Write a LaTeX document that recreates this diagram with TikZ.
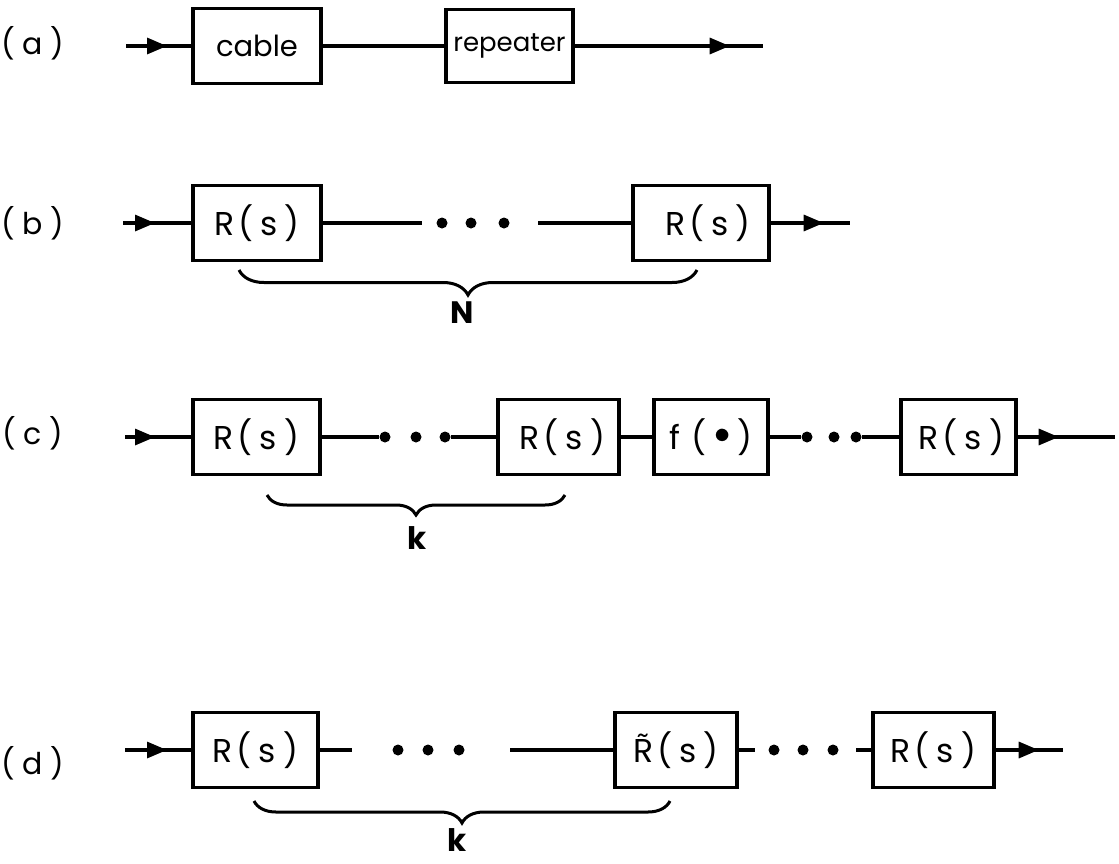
\documentclass[tikz,border=0pt]{standalone}
\usepackage{fontspec}
\setmainfont{Poppins}
\usetikzlibrary{arrows.meta,decorations.markings,decorations.pathreplacing}
\newcommand\RsTxt{R\hspace{0.12em}(\hspace{0.22em}s\hspace{0.22em})}
\newcommand\RtTxt{\accent"02DC R\hspace{0.12em}(\hspace{0.22em}s\hspace{0.22em})}
\newcommand\FdTxt{f\hspace{0.35em}(\hspace{0.22em}\raisebox{0.18em}{\scalebox{1.3}{$\bullet$}}\hspace{0.22em})}
\begin{document}
\begin{tikzpicture}[x=1pt,y=-1pt,
  blk/.style={draw, line width=3.4pt, minimum height=75pt, inner sep=0pt,
    font=\fontsize{33}{33}\selectfont},
  wire/.style={line width=3.2pt},
  arrat/.style={postaction={decorate}, decoration={markings,
    mark=at position #1 with {\arrow{Triangle[length=20pt,width=16pt]}}}},
  dotn/.style={circle, fill, inner sep=0pt, minimum size=11pt},
  lab/.style={font=\fontsize{30}{30}\selectfont},
  brc/.style={decorate, decoration={brace, mirror, amplitude=#1}, line width=3pt},
  brlab/.style={font=\fontsize{31}{31}\selectfont\bfseries, inner sep=1pt},
]
\useasboundingbox (0,0) rectangle (1119,863);

% ---------- (a) ----------
\node[lab] (la) at (33,43) {(\hspace{0.25em}a\hspace{0.25em})};
\node[blk, minimum width=128pt, font=\fontsize{29}{29}\selectfont] (cable) at (257,46) {cable};
\node[blk, minimum width=127pt, minimum height=73pt, font=\fontsize{26}{26}\selectfont] (rep) at (509.5,46) {repeater};
\coordinate (ain) at (126,46);
\coordinate (aout) at (763,46);
\draw[wire, arrat=41pt] (ain) -- (cable.west);
\draw[wire] (cable.east) -- (rep.west);
\draw[wire, arrat=155pt] (rep.east) -- (aout);

% ---------- (b) ----------
\node[lab] (lb) at (33,223) {(\hspace{0.25em}b\hspace{0.25em})};
\node[blk, minimum width=128pt] (b1) at (257,223) {\RsTxt};
\node[blk, minimum width=136pt] (b2) at (701,223) {\hspace{14pt}\RsTxt};
\coordinate (bin) at (123,223);
\coordinate (bl1) at (422,223);
\coordinate (bl2) at (538,223);
\coordinate (bout) at (850,223);
\node[dotn] (bd1) at (442,223) {};
\node[dotn] (bd2) at (471,223) {};
\node[dotn] (bd3) at (504,223) {};
\draw[wire, arrat=32pt] (bin) -- (b1.west);
\draw[wire] (b1.east) -- (bl1);
\draw[wire] (bl2) -- (b2.west);
\draw[wire, arrat=53pt] (b2.east) -- (bout);
\coordinate (bbl) at (239,270);
\coordinate (bbr) at (697,270);
\draw[brc=25pt] (bbl) -- (bbr);
\node[brlab] (N) at (462,313) {N};

% ---------- (c) ----------
\node[lab] (lc) at (33,433) {(\hspace{0.25em}c\hspace{0.25em})};
\node[blk, minimum width=127pt] (c1) at (256.5,437) {\RsTxt};
\node[blk, minimum width=121pt] (c2) at (558.5,437) {\hspace{8pt}\RsTxt};
\node[blk, minimum width=114pt] (cf) at (711,437) {\FdTxt};
\node[blk, minimum width=115pt] (c4) at (958.5,437) {\hspace{6pt}\RsTxt};
\coordinate (cin) at (125,437);
\coordinate (cout) at (1115,437);
\node[dotn] (cd1) at (385,437) {};
\node[dotn] (cd2) at (416,437) {};
\node[dotn] (cd3) at (445,437) {};
\node[dotn] (cd4) at (807,437) {};
\node[dotn] (cd5) at (834,437) {};
\node[dotn] (cd6) at (856,437) {};
\draw[wire, arrat=30pt] (cin) -- (c1.west);
\draw[wire] (c1.east) -- (cd1);
\draw[wire] (cd3) -- (c2.west);
\draw[wire] (c2.east) -- (cf.west);
\draw[wire] (cf.east) -- (cd4);
\draw[wire] (cd6) -- (c4.west);
\draw[wire, arrat=41pt] (c4.east) -- (cout);
\coordinate (cbl) at (267,495);
\coordinate (cbr) at (565,495);
\draw[brc=20pt] (cbl) -- (cbr);
\node[brlab] (ck) at (417,538) {k};

% ---------- (d) ----------
\node[lab] (ld) at (33,763) {(\hspace{0.25em}d\hspace{0.25em})};
\node[blk, minimum width=125pt] (d1) at (255.5,750) {\RsTxt};
\node[blk, minimum width=122pt] (d2) at (676,750) {\RtTxt};
\node[blk, minimum width=121pt] (d3) at (933.5,750) {\RsTxt};
\coordinate (din) at (125,750);
\coordinate (dl1) at (352,750);
\coordinate (dl2) at (510,750);
\coordinate (dl3) at (755,750);
\coordinate (dl4) at (856,750);
\coordinate (dout) at (1063,750);
\node[dotn] (dd1) at (398,750) {};
\node[dotn] (dd2) at (428,750) {};
\node[dotn] (dd3) at (459,750) {};
\node[dotn] (dd4) at (774,750) {};
\node[dotn] (dd5) at (803,750) {};
\node[dotn] (dd6) at (833,750) {};
\draw[wire, arrat=42pt] (din) -- (d1.west);
\draw[wire] (d1.east) -- (dl1);
\draw[wire] (dl2) -- (d2.west);
\draw[wire] (d2.east) -- (dl3);
\draw[wire] (dl4) -- (d3.west);
\draw[wire, arrat=43pt] (d3.east) -- (dout);
\coordinate (dbl) at (254,801);
\coordinate (dbr) at (670,801);
\draw[brc=22pt] (dbl) -- (dbr);
\node[brlab] (dk) at (457,840) {k};
\end{tikzpicture}
\end{document}
